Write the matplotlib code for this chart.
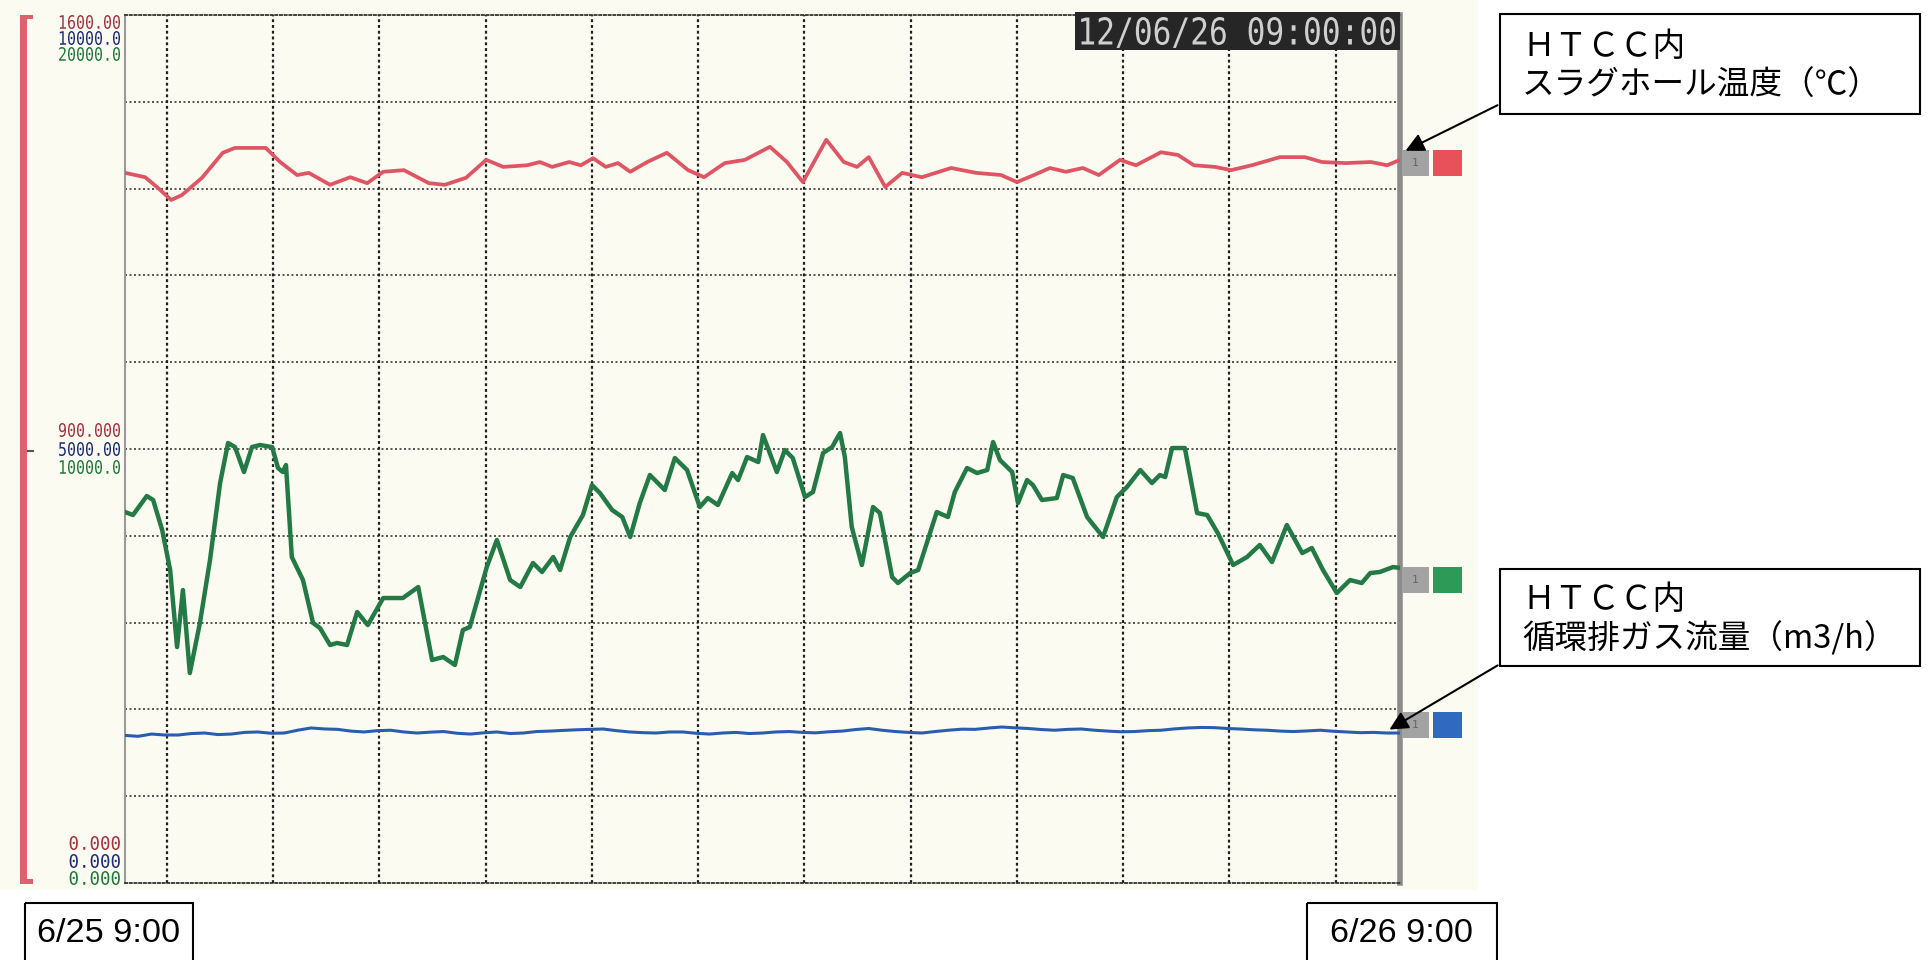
import numpy as np
import matplotlib
matplotlib.use('Agg')
import matplotlib.pyplot as plt
from matplotlib.patches import Rectangle, PathPatch
from matplotlib.textpath import TextPath
from matplotlib.font_manager import FontProperties
from matplotlib.transforms import Affine2D

# hours after 6/25 9:00
red_h = [0.0, 0.38, 0.60, 0.87, 1.07, 1.45, 1.84, 2.07, 2.65, 2.92, 3.24, 3.46,
         3.86, 4.24, 4.56, 4.86, 5.25, 5.72, 6.02, 6.42, 6.80, 7.12, 7.57, 7.81,
         8.04, 8.36, 8.58, 8.81, 9.05, 9.28, 9.51, 9.83, 10.20, 10.60, 10.90,
         11.29, 11.67, 12.14, 12.46, 12.76, 13.20, 13.53, 13.78, 14.00, 14.31,
         14.63, 15.00, 15.55, 16.02, 16.49, 16.79, 17.11, 17.41, 17.71, 18.03,
         18.33, 18.73, 19.03, 19.50, 19.82, 20.12, 20.52, 20.82, 21.21, 21.74,
         22.21, 22.53, 22.98, 23.45, 23.76, 24.00]
# slag hole temperature (deg C)
red_v = [1309, 1301, 1283, 1259, 1268, 1300, 1346, 1355, 1355, 1329, 1305, 1309,
         1287, 1301, 1290, 1311, 1314, 1290, 1287, 1300, 1333, 1320, 1323, 1329,
         1320, 1329, 1323, 1336, 1320, 1327, 1311, 1329, 1346, 1314, 1301,
         1327, 1333, 1357, 1329, 1292, 1370, 1329, 1320, 1338, 1283,
         1309, 1301, 1318, 1309, 1305, 1292, 1305, 1318, 1311, 1318,
         1305, 1333, 1323, 1347, 1342, 1323, 1320, 1314, 1323, 1338,
         1338, 1329, 1327, 1329, 1323, 1333]

green_h = [0.0, 0.15, 0.41, 0.53, 0.70, 0.85, 0.98, 1.09, 1.22, 1.41, 1.60, 1.79,
           1.94, 2.07, 2.24, 2.39, 2.54, 2.77, 2.88, 2.97, 3.03, 3.14, 3.35, 3.54,
           3.67, 3.86, 3.99, 4.18, 4.37, 4.57, 4.86, 5.23, 5.52, 5.78, 5.99, 6.21,
           6.36, 6.49, 6.81, 7.00, 7.25, 7.44, 7.68, 7.85, 8.06, 8.19, 8.38, 8.62,
           8.79, 8.94, 9.17, 9.36, 9.51, 9.69, 9.88, 10.01, 10.16, 10.35, 10.58,
           10.82, 10.97, 11.16, 11.43, 11.54, 11.71, 11.92, 12.01, 12.27, 12.42,
           12.57, 12.80, 12.95, 13.14, 13.31, 13.46, 13.55, 13.68, 13.87, 14.08,
           14.21, 14.44, 14.55, 14.78, 14.93, 15.28, 15.49, 15.62, 15.85, 16.04,
           16.23, 16.34, 16.47, 16.70, 16.81, 16.98, 17.09, 17.26, 17.54, 17.66,
           17.84, 18.11, 18.41, 18.67, 18.86, 19.11, 19.33, 19.48, 19.58, 19.71,
           19.95, 20.18, 20.37, 20.57, 20.86, 21.12, 21.36, 21.59, 21.87, 22.16,
           22.34, 22.55, 22.81, 23.06, 23.28, 23.44, 23.62, 23.87, 24.0]
green_v = [8548, 8479, 8917, 8824, 8133, 7212, 5437, 6751, 4838, 5990, 7442, 9216,
           10138, 10045, 9469, 10045, 10092, 10045, 9562, 9469, 9631, 7511, 6981, 5990,
           5875, 5484, 5530, 5484, 6244, 5944, 6566, 6566, 6820, 5138, 5207, 5023,
           5829, 5898, 7281, 7903, 6981, 6820, 7373, 7166, 7511, 7212, 7972, 8479,
           9170, 8986, 8594, 8433, 7972, 8755, 9400, 9239, 9055, 9792, 9516,
           8663, 8870, 8709, 9446, 9285, 9815, 9700, 10322, 9469, 9976,
           9792, 8893, 9009, 9907, 10045, 10368, 9815, 8202, 7327, 8663,
           8525, 7050, 6912, 7142, 7212, 8548, 8433, 9009, 9562, 9446,
           9516, 10161, 9746, 9469, 8755, 9285, 9170, 8824, 8870, 9400,
           9331, 8433, 7972, 8893, 9124, 9516, 9216, 9400, 9354, 10022,
           10022, 8525, 8479, 8064, 7327, 7511, 7788, 7396, 8248, 7603,
           7718, 7212, 6682, 6981, 6912, 7142, 7166, 7281, 7258]

# recirculated exhaust gas flow (m3/h), sampled every 15 min
blue_h = np.linspace(0, 24, 97)
blue_v = [1700, 1690, 1716, 1705, 1705, 1722, 1728, 1710,
          1716, 1735, 1740, 1725, 1728, 1760, 1786, 1775,
          1770, 1750, 1740, 1755, 1760, 1740, 1728, 1738,
          1745, 1725, 1716, 1730, 1740, 1722, 1728, 1745,
          1750, 1758, 1765, 1770, 1774, 1755, 1740, 1732,
          1728, 1740, 1740, 1725, 1716, 1728, 1735, 1722,
          1728, 1740, 1745, 1735, 1730, 1742, 1750, 1768,
          1780, 1760, 1745, 1735, 1728, 1745, 1760, 1772,
          1770, 1785, 1797, 1788, 1780, 1768, 1760, 1770,
          1774, 1760, 1750, 1742, 1745, 1755, 1760, 1775,
          1786, 1792, 1790, 1780, 1774, 1765, 1760, 1750,
          1745, 1752, 1760, 1748, 1740, 1732, 1735, 1728,
          1728]

scale_top = ['1600.00', '10000.0', '20000.0']
scale_mid = ['900.000', '5000.00', '10000.0']
scale_bot = ['0.000', '0.000', '0.000']
stamp = '12/06/26 09:00:00'

RED, BLUE, GREEN = '#e05563', '#2a5db0', '#237a45'
LBL = ['#a8303c', '#1c2c7c', '#1e7a3a']
CJK = ['Noto Sans CJK JP', 'DejaVu Sans']

W, H = 1928, 960
fig = plt.figure(figsize=(W / 100, H / 100), dpi=100)

bg = fig.add_axes([0, 0, 1, 1])
bg.set_xlim(0, W)
bg.set_ylim(H, 0)
bg.axis('off')
bg.add_patch(Rectangle((0, 0), 1478, 890, facecolor='#fbfbf2', edgecolor='none'))

L, R, T, B = 125, 1400, 15, 883
ax = fig.add_axes([L / W, 1 - B / H, (R - L) / W, (B - T) / H])
ax.set_zorder(1)
ax.patch.set_visible(False)
ax.set_xlim(0, 24)
ax.set_ylim(0, 1600)
ax.set_xticks([])
ax.set_yticks([])

for y in np.arange(160, 1600, 160):
    ax.axhline(y, color='#3a3a3a', lw=1.2, dashes=(1.2, 1.5), zorder=1)
for x in np.arange(0.79, 24, 2.0):
    ax.axvline(x, color='#202020', lw=1.6, dashes=(1.3, 1.3), zorder=1)

ax.spines['left'].set_color('#9a9a9a')
ax.spines['left'].set_linewidth(1.5)
ax.spines['right'].set_color('#8c8c8c')
ax.spines['right'].set_linewidth(4)
for side in ['top', 'bottom']:
    ax.spines[side].set_color('#333333')
    ax.spines[side].set_linewidth(1.3)
    ax.spines[side].set_linestyle((0, (1.2, 1.4)))

ax.plot(red_h, red_v, color=RED, lw=2.7, zorder=3)

ax_g = ax.twinx()
ax_g.set_zorder(2)
ax_g.set_ylim(0, 20000)
ax_g.axis('off')
ax_g.plot(green_h, green_v, color=GREEN, lw=3.2, zorder=3)

ax_b = ax.twinx()
ax_b.set_zorder(2)
ax_b.set_ylim(0, 10000)
ax_b.axis('off')
ax_b.plot(blue_h, blue_v, color=BLUE, lw=2.2, zorder=3)

# overlay in pixel coordinates for labels, boxes and arrows
ov = fig.add_axes([0, 0, 1, 1])
ov.set_zorder(5)
ov.patch.set_visible(False)
ov.set_xlim(0, W)
ov.set_ylim(H, 0)
ov.axis('off')

mono = FontProperties(family='DejaVu Sans Mono')


def squeezed(s, x_right, y_mid, cw, ch, color):
    # narrow, tall monospace text like the recorder's bitmap font
    tp = TextPath((0, 0), s, size=1, prop=mono)
    tr = Affine2D().scale(cw / 0.602, -ch / 0.729).translate(x_right - len(s) * cw, y_mid + ch / 2)
    ov.add_patch(PathPatch(tr.transform_path(tp), facecolor=color, edgecolor='none'))


for group, ys, cw in [(scale_top, [22, 38, 54], 9.0), (scale_mid, [430, 449, 467], 9.0),
                      (scale_bot, [843, 861, 878], 10.5)]:
    for s, y, c in zip(group, ys, LBL):
        squeezed(s, 121, y, cw, 13.5, c)

# red scale bracket on the far left
ov.add_patch(Rectangle((20, 15), 7, 868, facecolor='#e0606e', edgecolor='none'))
ov.add_patch(Rectangle((20, 15), 13, 4, facecolor='#e0606e', edgecolor='none'))
ov.add_patch(Rectangle((20, 879), 13, 5, facecolor='#e0606e', edgecolor='none'))
ov.plot([28, 33], [451, 451], color='#555555', lw=1.5)

# date/time stamp
ov.add_patch(Rectangle((1075, 12), 325, 38, facecolor='#262626', edgecolor='none'))
squeezed(stamp, 1397, 31, 18.8, 27, '#cfcfcf')

# channel markers at the right edge
for yc, col in [(163, '#e8505a'), (580, '#2e9a58'), (725, '#2f6ac0')]:
    ov.add_patch(Rectangle((1402, yc - 13), 27, 26, facecolor='#a3a3a3', edgecolor='none'))
    ov.text(1415, yc, '1', fontsize=8, color='#666666', ha='center', va='center')
    ov.add_patch(Rectangle((1433, yc - 13), 29, 26, facecolor=col, edgecolor='none'))

# callouts
ov.add_patch(Rectangle((1500, 14), 420, 100, fill=False, edgecolor='black', lw=1.5))
ov.text(1522, 47, 'ＨＴＣＣ内', fontsize=23.5, family=CJK, va='center', ha='left')
ov.text(1522, 86, 'スラグホール温度（℃）', fontsize=23.5, family=CJK, va='center', ha='left')
ov.annotate('', xy=(1403, 152), xytext=(1500, 104),
            arrowprops=dict(arrowstyle='-|>', color='black', lw=1.5, mutation_scale=28))

ov.add_patch(Rectangle((1500, 569), 420, 97, fill=False, edgecolor='black', lw=1.5))
ov.text(1522, 600, 'ＨＴＣＣ内', fontsize=23.5, family=CJK, va='center', ha='left')
ov.text(1522, 638, '循環排ガス流量（m3/h）', fontsize=23.5, family=CJK, va='center', ha='left')
ov.annotate('', xy=(1387, 731), xytext=(1500, 664),
            arrowprops=dict(arrowstyle='-|>', color='black', lw=1.5, mutation_scale=28))

# start / end time boxes
for x0, x1, txt in [(25, 193, '6/25 9:00'), (1307, 1497, '6/26 9:00')]:
    ov.add_patch(Rectangle((x0, 903), x1 - x0, 90, fill=False, edgecolor='black', lw=1.5))
    ov.text((x0 + x1) / 2, 934, txt, fontsize=24.7, family='Liberation Sans',
            ha='center', va='center')

fig.savefig('out.png', dpi=100)
